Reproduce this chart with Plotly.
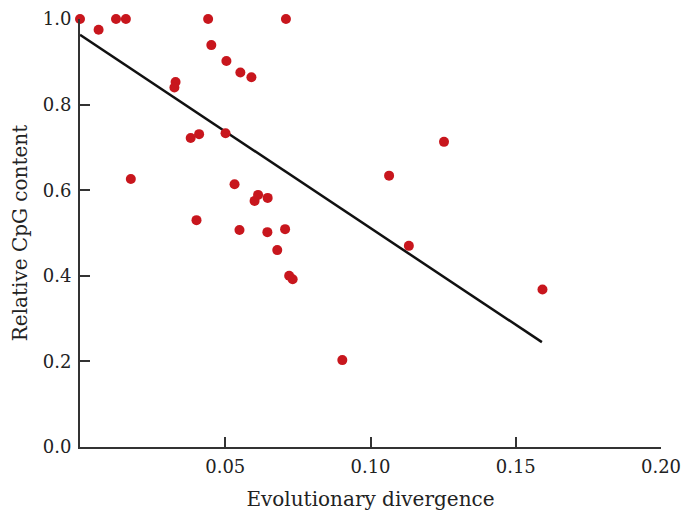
import plotly.graph_objects as go

divergence = [0.0, 0.0064, 0.0124, 0.0158, 0.0441, 0.0709, 0.0452, 0.0504, 0.0552, 0.0590,
              0.0329, 0.0325, 0.0381, 0.0410, 0.0501, 0.0175, 0.0532, 0.0601, 0.0613, 0.0646,
              0.0401, 0.0549, 0.0645, 0.0706, 0.0679, 0.0720, 0.0732, 0.0903, 0.1253, 0.1064,
              0.1132, 0.1592]
cpg = [1.0, 0.975, 1.0, 1.0, 1.0, 1.0, 0.939, 0.902, 0.875, 0.864,
       0.853, 0.840, 0.722, 0.731, 0.733, 0.626, 0.614, 0.575, 0.589, 0.582,
       0.530, 0.507, 0.502, 0.509, 0.460, 0.400, 0.392, 0.203, 0.713, 0.634,
       0.470, 0.368]
fit_x = [0.0, 0.159]
fit_y = [0.963, 0.245]

x_ticks = [0.05, 0.10, 0.15, 0.20]
x_tick_labels = ["0.05", "0.10", "0.15", "0.20"]
y_ticks = [0.0, 0.2, 0.4, 0.6, 0.8, 1.0]
y_tick_labels = ["0.0", "0.2", "0.4", "0.6", "0.8", "1.0"]

font_family = "DejaVu Serif, Liberation Serif, serif"

fig = go.Figure()
fig.add_trace(go.Scatter(x=fit_x, y=fit_y, mode="lines",
                         line=dict(color="#111111", width=2.5), cliponaxis=False,
                         hoverinfo="skip", showlegend=False))
fig.add_trace(go.Scatter(x=divergence, y=cpg, mode="markers",
                         marker=dict(color="#c8161d", size=10, line=dict(width=0)),
                         cliponaxis=False, showlegend=False))

fig.update_layout(
    width=682, height=515,
    margin=dict(l=80, r=21, t=19, b=68),
    paper_bgcolor="white", plot_bgcolor="white",
    font=dict(family=font_family, size=18, color="#222222"),
    xaxis=dict(range=[0, 0.20], tickvals=x_ticks, ticktext=x_tick_labels,
               ticks="inside", ticklen=10, tickwidth=1.5, tickcolor="#333333",
               showline=True, linecolor="#333333", linewidth=2,
               showgrid=False, zeroline=False, ticklabelstandoff=2,
               automargin=False,
               title=dict(text="Evolutionary divergence", standoff=16,
                          font=dict(size=20))),
    yaxis=dict(range=[0, 1.0], tickvals=y_ticks, ticktext=y_tick_labels,
               ticks="inside", ticklen=10, tickwidth=1.5, tickcolor="#333333",
               showline=True, linecolor="#333333", linewidth=2,
               showgrid=False, zeroline=False, ticklabelstandoff=3,
               automargin=False,
               title=dict(text="Relative CpG content", standoff=10,
                          font=dict(size=20))),
)

fig.write_html("out.html", config={"displayModeBar": False},
               post_script="document.body.style.margin='0';document.body.style.overflow='hidden';")
